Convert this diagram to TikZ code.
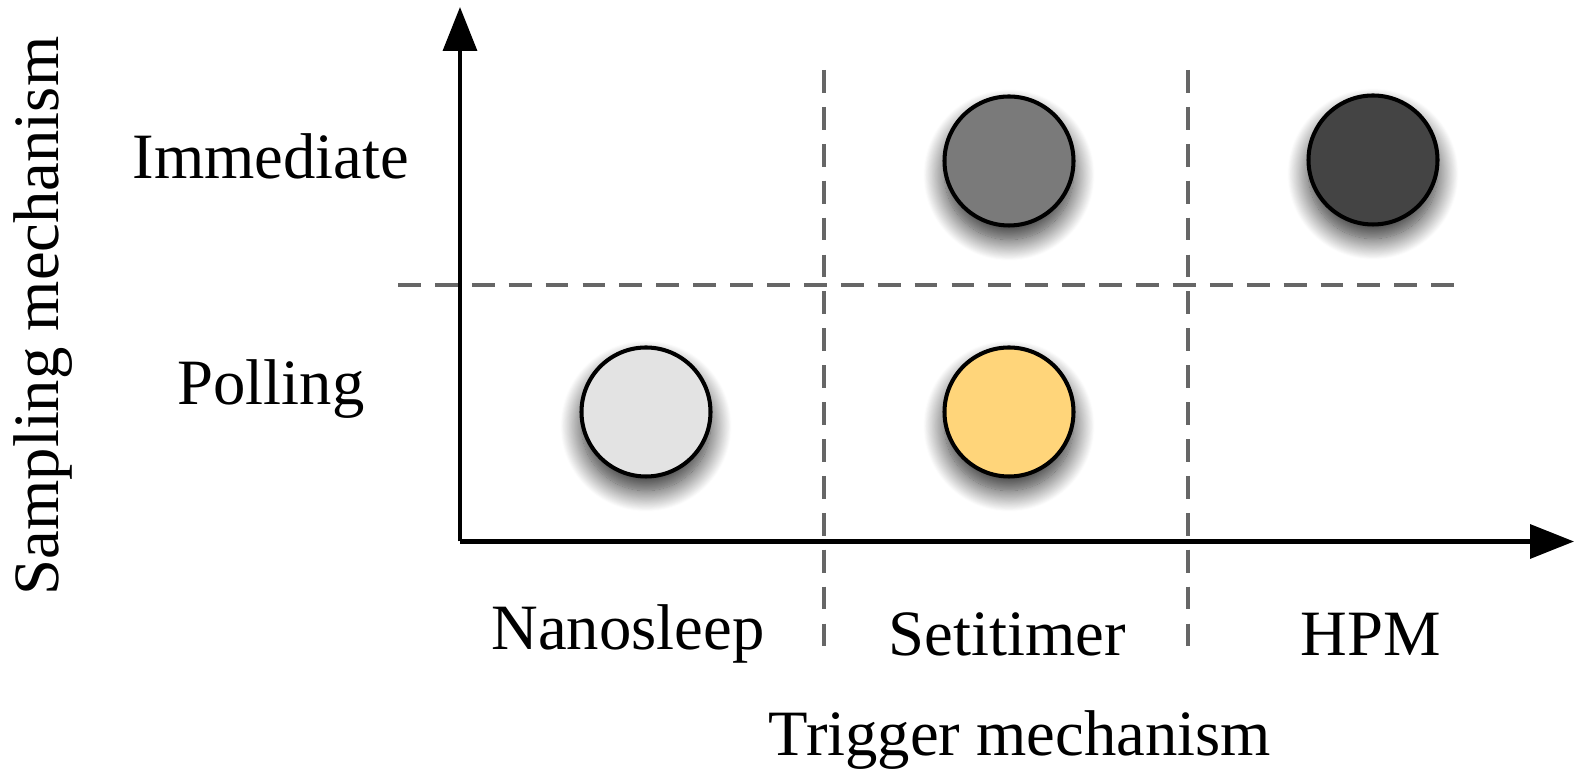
\documentclass[tikz,border=0pt]{standalone}
\usepackage{fontspec}
\setmainfont{Liberation Serif}
\usetikzlibrary{arrows.meta,shadows.blur}
\tikzset{
  axis/.style={line width=1.15pt, -{Triangle[length=12.5pt,width=9.6pt]}},
  grid line/.style={line width=0.9pt, draw=black!60, dash pattern=on 6.5pt off 4pt},
  dot/.style={circle, draw=black, line width=1.15pt, minimum size=12.9mm, inner sep=0pt,
    blur shadow={shadow xshift=0pt, shadow yshift=-4pt, shadow blur radius=6pt,
      shadow blur steps=24, shadow scale=1.0, shadow opacity=85}},
  lbl/.style={font=\fontsize{18.4pt}{22pt}\selectfont, inner sep=0pt}
}
\begin{document}
\begin{tikzpicture}[x=0.1mm, y=-0.1mm]
  \useasboundingbox (0,0) rectangle (1574,777);
  % grid separators
  \coordinate (hl) at (398,285);
  \coordinate (hr) at (1456,285);
  \coordinate (v1t) at (824,70);
  \coordinate (v1b) at (824,647);
  \coordinate (v2t) at (1188,70);
  \coordinate (v2b) at (1188,647);
  \draw[grid line] (hl) -- (hr);
  \draw[grid line] (v1t) -- (v1b);
  \draw[grid line] (v2t) -- (v2b);
  % axes
  \coordinate (origin) at (460,541.5);
  \coordinate (ytip) at (460,7);
  \coordinate (xtip) at (1574,541.5);
  \draw[axis] (origin) -- (ytip);
  \draw[axis] (origin) -- (xtip);
  % markers
  \node[dot, fill={rgb,255:red,122;green,122;blue,122}] (si) at (1009,161) {};
  \node[dot, fill={rgb,255:red,68;green,68;blue,68}] (hi) at (1373,160) {};
  \node[dot, fill={rgb,255:red,227;green,227;blue,227}] (np) at (646,412) {};
  \node[dot, fill={rgb,255:red,255;green,213;blue,122}] (sp) at (1009,412) {};
  % labels
  \node[lbl] (imm) at (271,156) {Immediate};
  \node[lbl] (pol) at (271,389) {Polling};
  \node[lbl] (nan) at (628,634) {Nanosleep};
  \node[lbl] (set) at (1007,634) {Setitimer};
  \node[lbl] (hpm) at (1371,634) {HPM};
  \node[lbl] (xlab) at (1020,740) {Trigger mechanism};
  \node[lbl, rotate=90] (ylab) at (43,316) {Sampling mechanism};
\end{tikzpicture}
\end{document}
